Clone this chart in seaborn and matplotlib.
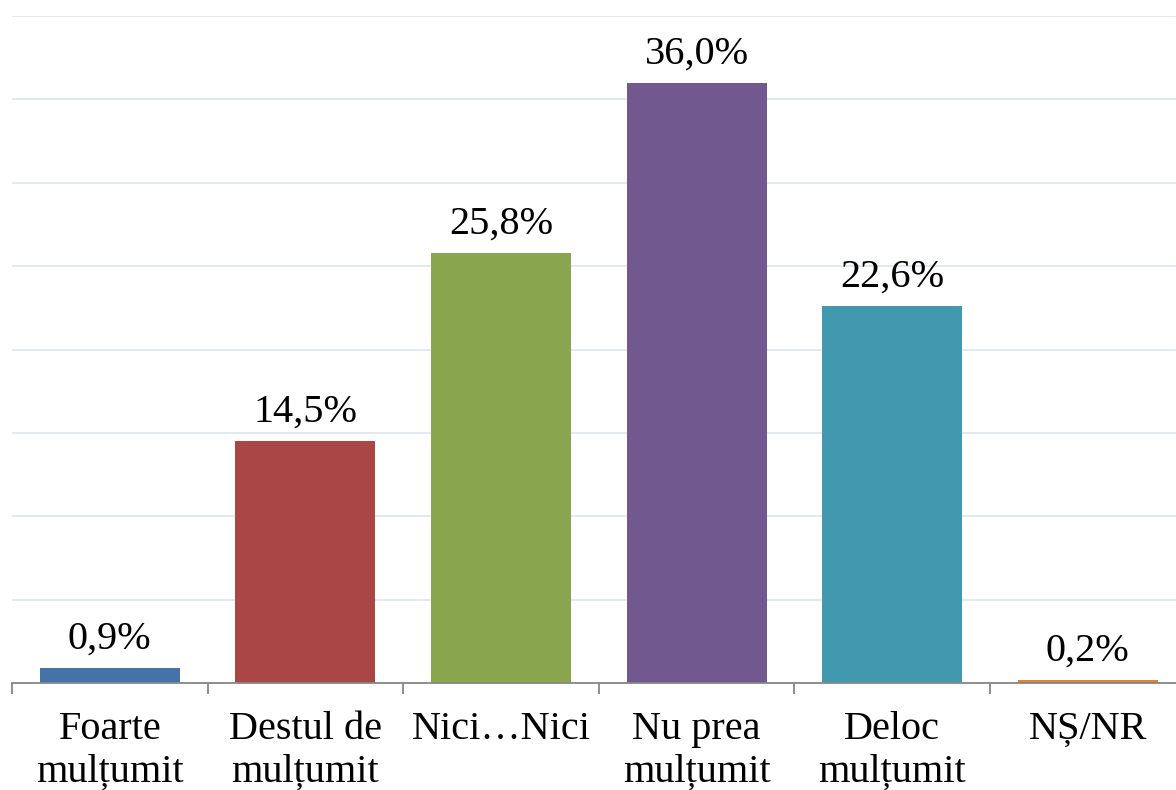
import pandas as pd
import matplotlib
matplotlib.use("Agg")
import matplotlib.pyplot as plt
import seaborn as sns

categorii = ["Foarte\nmulțumit", "Destul de\nmulțumit", "Nici…Nici",
             "Nu prea\nmulțumit", "Deloc\nmulțumit", "NȘ/NR"]
procente = [0.9, 14.5, 25.8, 36.0, 22.6, 0.2]
etichete = ["0,9%", "14,5%", "25,8%", "36,0%", "22,6%", "0,2%"]
culori = ["#4572a7", "#aa4643", "#89a54e", "#71588f", "#4198af", "#db843d"]

sns.set_style("white")
plt.rcParams["font.family"] = ["Liberation Serif", "DejaVu Serif"]
plt.rcParams["text.color"] = "black"
plt.rcParams["xtick.color"] = "black"

df = pd.DataFrame({"cat": categorii, "val": procente})

fig = plt.figure(figsize=(11.76, 7.90), dpi=100)
ax = fig.add_axes([12 / 1176, 107 / 790, 1 - 12 / 1176, (683 - 16) / 790])

sns.barplot(data=df, x="cat", y="val", hue="cat", palette=culori,
            width=0.716, legend=False, saturation=1, linewidth=0, ax=ax)

ax.set_yticks(range(5, 45, 5))
ax.yaxis.grid(True, color="#dce6f2", linewidth=1.2)
ax.set_axisbelow(True)
ax.tick_params(axis="y", left=False, labelleft=False)

for s in ["top", "right", "left"]:
    ax.spines[s].set_visible(False)
ax.spines["bottom"].set_color("#868686")
ax.spines["bottom"].set_linewidth(1.3)

ax.set_xticks([i + 0.5 for i in range(-1, 6)], minor=True)
ax.tick_params(axis="x", which="minor", bottom=True, length=8, width=1.3, color="#868686")
ax.tick_params(axis="x", which="major", bottom=False, labelsize=29, pad=16.5, labelcolor="black")
ax.set_xlabel("")
ax.set_ylabel("")
for lbl in ax.get_xticklabels():
    lbl.set_linespacing(1.2)

bare = [p for c in ax.containers for p in c]
for i, bar in enumerate(bare):
    ax.text(bar.get_x() + bar.get_width() / 2, bar.get_height() + 1.15, etichete[i],
            ha="center", va="baseline", fontsize=29, color="black")

ax.set_autoscale_on(False)
ax.set_ylim(0, 40)
ax.set_xlim(-0.5, -0.5 + 1164 / 195.6)

fig.savefig("out.png", dpi=100)
